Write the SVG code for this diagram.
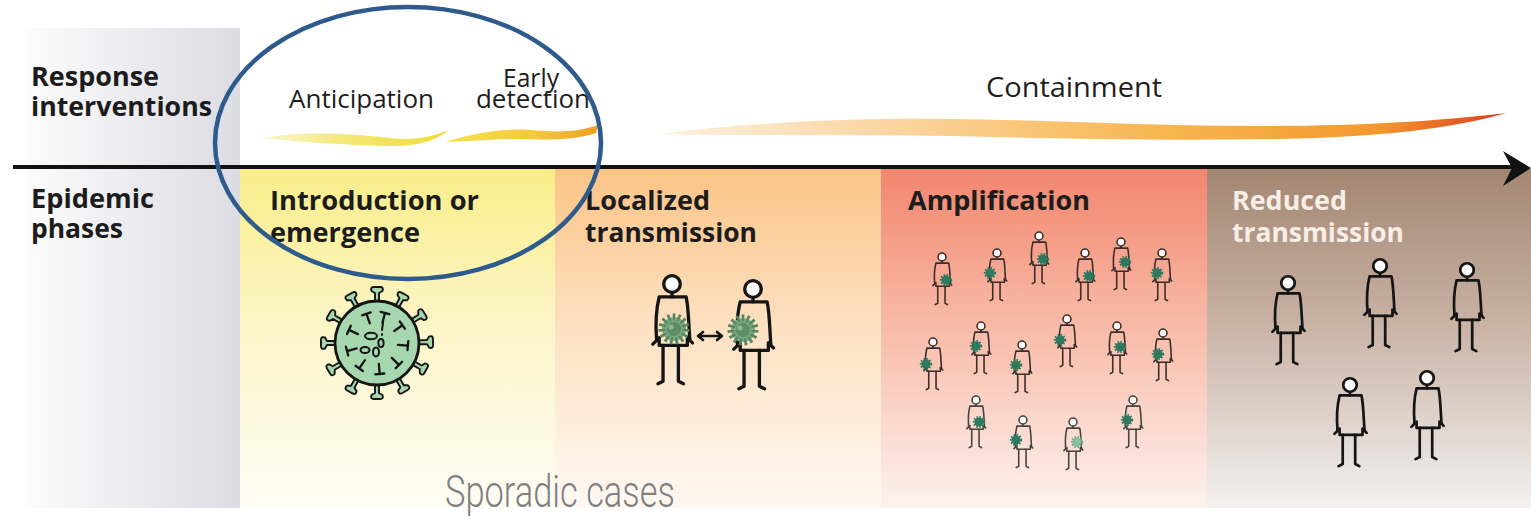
<svg xmlns="http://www.w3.org/2000/svg" xmlns:xlink="http://www.w3.org/1999/xlink" width="1531" height="519" viewBox="0 0 1531 519">
  <style>
    .head { font-family: "Open Sans", "Liberation Sans", sans-serif; font-weight: 700; font-size: 27px; fill: #1c1c1c; }
    .soft { font-family: "Open Sans", "Liberation Sans", sans-serif; font-weight: 400; font-size: 26px; fill: #1e1e1e; }
    .pale { fill: #f7eee6; }
    .note { font-family: "Roboto", "Liberation Sans", sans-serif; font-weight: 300; font-size: 45px; fill: #7f7f7f; }
    .ink { fill: none; stroke: #151515; stroke-width: 2.6; stroke-linecap: round; stroke-linejoin: round; }
  </style>
  <defs>
    <linearGradient id="gPanel" x1="0" y1="0" x2="1" y2="0">
      <stop offset="0" stop-color="#fcfcfc"/>
      <stop offset="1" stop-color="#dcdce3"/>
    </linearGradient>
    <linearGradient id="gYellow" x1="0" y1="0" x2="0" y2="1">
      <stop offset="0" stop-color="#f9ee88"/>
      <stop offset="0.45" stop-color="#fcf5c6"/>
      <stop offset="1" stop-color="#fffdf6"/>
    </linearGradient>
    <linearGradient id="gOrange" x1="0" y1="0" x2="0" y2="1">
      <stop offset="0" stop-color="#fbc486"/>
      <stop offset="0.45" stop-color="#fde0c0"/>
      <stop offset="1" stop-color="#fff8f2"/>
    </linearGradient>
    <linearGradient id="gRed" x1="0" y1="0" x2="0" y2="1">
      <stop offset="0" stop-color="#f2866e"/>
      <stop offset="0.45" stop-color="#f8b9a6"/>
      <stop offset="1" stop-color="#fdf2ee"/>
    </linearGradient>
    <linearGradient id="gBrown" x1="0" y1="0" x2="0" y2="1">
      <stop offset="0" stop-color="#a38672"/>
      <stop offset="0.45" stop-color="#c8b2a4"/>
      <stop offset="1" stop-color="#f4f1f0"/>
    </linearGradient>
    <linearGradient id="gStroke1" x1="262" y1="0" x2="448" y2="0" gradientUnits="userSpaceOnUse">
      <stop offset="0" stop-color="#fbf5cf"/>
      <stop offset="0.5" stop-color="#f4e670"/>
      <stop offset="1" stop-color="#efdc38"/>
    </linearGradient>
    <linearGradient id="gStroke2" x1="445" y1="0" x2="598" y2="0" gradientUnits="userSpaceOnUse">
      <stop offset="0" stop-color="#f4e250"/>
      <stop offset="0.6" stop-color="#f3c93a"/>
      <stop offset="1" stop-color="#ef9e22"/>
    </linearGradient>
    <linearGradient id="gStroke3" x1="660" y1="0" x2="1505" y2="0" gradientUnits="userSpaceOnUse">
      <stop offset="0" stop-color="#fdf0e0"/>
      <stop offset="0.25" stop-color="#fbd7a6"/>
      <stop offset="0.6" stop-color="#f7b64e"/>
      <stop offset="0.85" stop-color="#f3982e"/>
      <stop offset="1" stop-color="#dd3c1c"/>
    </linearGradient>

    <!-- stick figure, head centre at origin -->
    <g id="person" fill="none" stroke="currentColor" stroke-width="2.6" stroke-linecap="round" stroke-linejoin="round">
      <path d="M 0 7 L 0 10"/>
      <path d="M -12 44 C -13 32 -12 18 -10 10 L 11 10 C 13 18 13 32 14 44"/>
      <path d="M -12 44 L -15 47 M 14 44 L 16 46"/>
      <path d="M -10 42 L -10 48 L 12 48 L 12 42"/>
      <path d="M -7 48 L -7 76 L -11 78 M 5 48 L 5 76 L 9 78"/>
      <circle cx="0" cy="0" r="6.5" fill="#ffffff"/>
    </g>
    <!-- viral load carried by a figure -->
    <g id="germBig">
      <circle r="12" fill="#79a77f" stroke="#56855f" stroke-width="7" stroke-dasharray="2.4 2.6"/>
      <circle r="7" fill="#5e8e66"/>
      <circle cx="-3" cy="-2" r="2.5" fill="#8fb894"/>
    </g>
    <g id="germ">
      <circle r="4.6" fill="#2f7a5f" stroke="#2f7a5f" stroke-width="3.2" stroke-dasharray="1.3 1.4"/>
    </g>
    <g id="germLight">
      <circle r="4.6" fill="#8fc3a0" stroke="#6fa886" stroke-width="3.2" stroke-dasharray="1.3 1.4"/>
    </g>
    <!-- virion spike and surface mark -->
    <path id="spike" d="M -2 -41 L -2 -50 L -5.5 -52 Q -7 -56 -3 -56 L 3 -56 Q 7 -56 5.5 -52 L 2 -50 L 2 -41" fill="#a6d7ae" stroke="#151515" stroke-width="1.9" stroke-linejoin="round"/>
    <path id="tmark" d="M -4.5 -31 L 4.5 -31 M 0 -31 L 0 -21" fill="none" stroke="#151515" stroke-width="2.3" stroke-linecap="round"/>
  </defs>

  <rect width="1531" height="519" fill="#ffffff"/>

  <!-- row labels -->
  <g id="row-labels">
    <rect x="25" y="28" width="215" height="480" fill="url(#gPanel)"/>
    <text class="head" x="31" y="86" textLength="128" lengthAdjust="spacingAndGlyphs">Response</text>
    <text class="head" x="31" y="116" textLength="181" lengthAdjust="spacingAndGlyphs">interventions</text>
    <text class="head" x="31" y="208" textLength="123" lengthAdjust="spacingAndGlyphs">Epidemic</text>
    <text class="head" x="31" y="238" textLength="92" lengthAdjust="spacingAndGlyphs">phases</text>
  </g>

  <!-- epidemic phases -->
  <g id="phase-introduction">
    <rect x="240" y="169" width="315" height="339" fill="url(#gYellow)"/>
    <text class="head" x="270" y="210" textLength="209" lengthAdjust="spacingAndGlyphs">Introduction or</text>
    <text class="head" x="270" y="242" textLength="150" lengthAdjust="spacingAndGlyphs">emergence</text>
    <g id="virion" transform="translate(377 343)">
      <use xlink:href="#spike" transform="rotate(0)"/>
      <use xlink:href="#spike" transform="rotate(29)"/>
      <use xlink:href="#spike" transform="rotate(58)"/>
      <use xlink:href="#spike" transform="rotate(89)"/>
      <use xlink:href="#spike" transform="rotate(119)"/>
      <use xlink:href="#spike" transform="rotate(150)"/>
      <use xlink:href="#spike" transform="rotate(180)"/>
      <use xlink:href="#spike" transform="rotate(209)"/>
      <use xlink:href="#spike" transform="rotate(240)"/>
      <use xlink:href="#spike" transform="rotate(270)"/>
      <use xlink:href="#spike" transform="rotate(301)"/>
      <use xlink:href="#spike" transform="rotate(331)"/>
      <circle r="42" fill="#a6d7ae" stroke="#151515" stroke-width="2.8"/>
      <use xlink:href="#tmark" transform="rotate(-20)"/>
      <use xlink:href="#tmark" transform="rotate(15)"/>
      <use xlink:href="#tmark" transform="rotate(55)"/>
      <use xlink:href="#tmark" transform="rotate(95)"/>
      <use xlink:href="#tmark" transform="rotate(135)"/>
      <use xlink:href="#tmark" transform="rotate(175)"/>
      <use xlink:href="#tmark" transform="rotate(215)"/>
      <use xlink:href="#tmark" transform="rotate(255)"/>
      <use xlink:href="#tmark" transform="rotate(295)"/>
      <g fill="none" stroke="#151515" stroke-width="2">
        <ellipse cx="-6" cy="-7" rx="6" ry="3.2"/>
        <ellipse cx="4" cy="0" rx="2.6" ry="4"/>
        <ellipse cx="-12" cy="7" rx="4.5" ry="3"/>
        <ellipse cx="-1" cy="9" rx="3" ry="4.5"/>
        <path d="M 6 -20 L 5 -13 M 5 -9 L 5 -8" stroke-linecap="round"/>
      </g>
    </g>
  </g>

  <g id="phase-localized">
    <rect x="555" y="169" width="326" height="339" fill="url(#gOrange)"/>
    <text class="head" x="585" y="210" textLength="125" lengthAdjust="spacingAndGlyphs">Localized</text>
    <text class="head" x="585" y="242" textLength="172" lengthAdjust="spacingAndGlyphs">transmission</text>
    <use xlink:href="#person" transform="translate(672 284) scale(1.28)" style="color:#151515"/>
    <use xlink:href="#person" transform="translate(753 289) scale(1.28)" style="color:#151515"/>
    <use xlink:href="#germBig" transform="translate(674 329)"/>
    <use xlink:href="#germBig" transform="translate(743 330)"/>
  </g>

  <g id="phase-amplification">
    <rect x="881" y="169" width="326" height="339" fill="url(#gRed)"/>
    <text class="head" x="908" y="210" textLength="182" lengthAdjust="spacingAndGlyphs">Amplification</text>
    <g style="color:#3b2e2a">
      <use xlink:href="#person" transform="translate(942 257) scale(0.61)"/>
      <use xlink:href="#person" transform="translate(997 253) scale(0.61)"/>
      <use xlink:href="#person" transform="translate(1039 236) scale(0.61)"/>
      <use xlink:href="#person" transform="translate(1085 253) scale(0.61)"/>
      <use xlink:href="#person" transform="translate(1121 242) scale(0.61)"/>
      <use xlink:href="#person" transform="translate(1162 253) scale(0.61)"/>
      <use xlink:href="#person" transform="translate(933 342) scale(0.61)"/>
      <use xlink:href="#person" transform="translate(981 326) scale(0.61)"/>
      <use xlink:href="#person" transform="translate(1022 345) scale(0.61)"/>
      <use xlink:href="#person" transform="translate(1067 319) scale(0.61)"/>
      <use xlink:href="#person" transform="translate(1117 326) scale(0.61)"/>
      <use xlink:href="#person" transform="translate(1163 333) scale(0.61)"/>
    </g>
    <g style="color:#45443f">
      <use xlink:href="#person" transform="translate(976 400) scale(0.61)"/>
      <use xlink:href="#person" transform="translate(1023 420) scale(0.61)"/>
      <use xlink:href="#person" transform="translate(1073 422) scale(0.61)"/>
      <use xlink:href="#person" transform="translate(1133 400) scale(0.61)"/>
    </g>
    <use xlink:href="#germ" x="946" y="280"/>
    <use xlink:href="#germ" x="990" y="273"/>
    <use xlink:href="#germ" x="1043" y="259"/>
    <use xlink:href="#germ" x="1089" y="276"/>
    <use xlink:href="#germ" x="1125" y="262"/>
    <use xlink:href="#germ" x="1157" y="273"/>
    <use xlink:href="#germ" x="926" y="364"/>
    <use xlink:href="#germ" x="976" y="346"/>
    <use xlink:href="#germ" x="1016" y="365"/>
    <use xlink:href="#germ" x="1060" y="340"/>
    <use xlink:href="#germ" x="1120" y="347"/>
    <use xlink:href="#germ" x="1158" y="354"/>
    <use xlink:href="#germ" x="979" y="422"/>
    <use xlink:href="#germ" x="1016" y="440"/>
    <use xlink:href="#germLight" x="1077" y="442"/>
    <use xlink:href="#germ" x="1127" y="420"/>
  </g>

  <g id="phase-reduced">
    <rect x="1207" y="169" width="324" height="339" fill="url(#gBrown)"/>
    <text class="head pale" x="1232" y="210" textLength="115" lengthAdjust="spacingAndGlyphs">Reduced</text>
    <text class="head pale" x="1232" y="242" textLength="172" lengthAdjust="spacingAndGlyphs">transmission</text>
    <g style="color:#151515">
      <use xlink:href="#person" transform="translate(1288 283) scale(1.04)"/>
      <use xlink:href="#person" transform="translate(1380 266) scale(1.04)"/>
      <use xlink:href="#person" transform="translate(1467 270) scale(1.04)"/>
      <use xlink:href="#person" transform="translate(1350 385) scale(1.04)"/>
      <use xlink:href="#person" transform="translate(1427 378) scale(1.04)"/>
    </g>
  </g>

  <!-- response interventions -->
  <g id="intervention-anticipation">
    <path d="M 262 138 C 300 131 350 133 390 138 C 415 141 435 136 448 130 C 438 140 418 147 385 146 C 345 145 300 142 262 138 Z" fill="url(#gStroke1)"/>
    <text class="soft" x="289" y="108" textLength="145" lengthAdjust="spacingAndGlyphs">Anticipation</text>
  </g>
  <g id="intervention-early-detection">
    <path d="M 445 142 C 470 134 500 128 530 130 C 555 132 575 133 598 125 L 596 133 C 575 140 550 140 520 139 C 490 139 465 142 445 142 Z" fill="url(#gStroke2)"/>
    <text class="soft" x="503" y="87" textLength="56" lengthAdjust="spacingAndGlyphs">Early</text>
    <text class="soft" x="476" y="108" textLength="114" lengthAdjust="spacingAndGlyphs">detection</text>
  </g>
  <g id="intervention-containment">
    <path d="M 660 134 C 750 122 850 118 950 119 C 1050 120 1150 126 1260 126 C 1360 126 1440 121 1506 113 C 1450 129 1380 137 1280 139 C 1150 141 1050 138 950 136 C 850 134 750 136 660 134 Z" fill="url(#gStroke3)"/>
    <text class="soft" x="986" y="97" textLength="176" lengthAdjust="spacingAndGlyphs" style="font-size:27px">Containment</text>
  </g>

  <g id="sporadic-cases">
    <text class="note" x="445" y="507" textLength="230" lengthAdjust="spacingAndGlyphs">Sporadic cases</text>
  </g>

  <!-- connectors -->
  <g id="connectors">
    <path d="M 13 167 L 1512 167" fill="none" stroke="#121212" stroke-width="4"/>
    <path d="M 1503 151 L 1531 168 L 1503 186 L 1512 168 Z" fill="#121212"/>
    <path class="ink" d="M 699 336 L 721 336 M 703 332 L 698 336 L 703 340 M 717 332 L 722 336 L 717 340"/>
  </g>

  <!-- highlight ring round the early phase -->
  <g id="highlight">
    <ellipse cx="408" cy="143" rx="193" ry="136" fill="none" stroke="#2e5b8c" stroke-width="4.5"/>
  </g>
</svg>
